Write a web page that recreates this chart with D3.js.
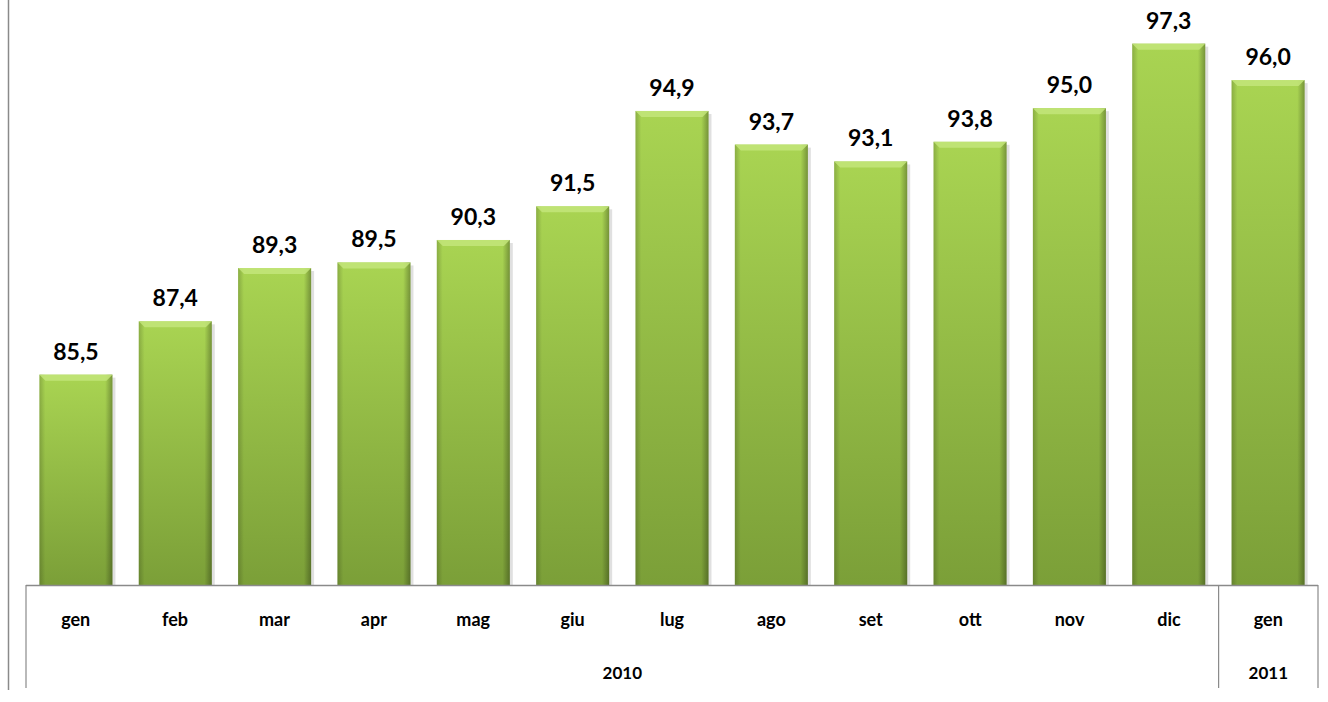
<!DOCTYPE html>
<html>
<head>
<meta charset="utf-8">
<script src="https://cdn.jsdelivr.net/npm/d3@7"></script>
<style>
  body { margin: 0; background: #fff; }
  text { font-family: Lato, "Open Sans", sans-serif; font-weight: bold; fill: #000; }
</style>
</head>
<body>
<svg id="chart" width="1328" height="702"></svg>
<script>
// month labels, values and year groups
var months = ['gen', 'feb', 'mar', 'apr', 'mag', 'giu', 'lug', 'ago', 'set', 'ott', 'nov', 'dic', 'gen'];
var values = [85.5, 87.4, 89.3, 89.5, 90.3, 91.5, 94.9, 93.7, 93.1, 93.8, 95.0, 97.3, 96.0];
var years = ['2010', '2011'];
var yearSpan = [12, 1];

var svg = d3.select('#chart');
var left = 26, right = 1318, base = 585;
var keys = d3.range(months.length);

var x = d3.scaleBand().domain(keys).range([left, right]).paddingInner(0.265).paddingOuter(0.135);
var xCat = d3.scaleBand().domain(keys).range([left, right]);
var y = d3.scaleLinear().domain([78, 98]).range([base, 24]);

var defs = svg.append('defs');
var g1 = defs.append('linearGradient').attr('id', 'fillG').attr('x1', 0).attr('y1', 0).attr('x2', 0).attr('y2', 1);
g1.append('stop').attr('offset', '0%').attr('stop-color', '#a9d452');
g1.append('stop').attr('offset', '100%').attr('stop-color', '#7b9f38');
var g2 = defs.append('linearGradient').attr('id', 'sideG').attr('x1', 0).attr('y1', 0).attr('x2', 1).attr('y2', 0);
g2.append('stop').attr('offset', '0%').attr('stop-color', '#000').attr('stop-opacity', 0.18);
g2.append('stop').attr('offset', '8%').attr('stop-color', '#000').attr('stop-opacity', 0);
g2.append('stop').attr('offset', '90%').attr('stop-color', '#000').attr('stop-opacity', 0);
g2.append('stop').attr('offset', '100%').attr('stop-color', '#000').attr('stop-opacity', 0.3);

// left frame line
svg.append('line').attr('x1', 8.5).attr('x2', 8.5).attr('y1', 0).attr('y2', 690)
    .attr('stroke', '#8a8a8a').attr('stroke-width', 1.5);

var bars = svg.selectAll('g.bar').data(keys).enter().append('g').attr('class', 'bar');

// soft shadow on the right
bars.append('rect')
    .attr('x', d => x(d) + 3).attr('y', d => y(values[d]) + 3)
    .attr('width', x.bandwidth()).attr('height', d => base - y(values[d]) - 3)
    .attr('fill', '#000').attr('opacity', 0.12);

bars.append('rect')
    .attr('x', d => x(d)).attr('y', d => y(values[d]))
    .attr('width', x.bandwidth()).attr('height', d => base - y(values[d]))
    .attr('fill', 'url(#fillG)');

bars.append('rect')
    .attr('x', d => x(d)).attr('y', d => y(values[d]))
    .attr('width', x.bandwidth()).attr('height', d => base - y(values[d]))
    .attr('fill', 'url(#sideG)');

// bevel on top edge
bars.append('path')
    .attr('d', function(d) {
        var x0 = x(d), x1 = x0 + x.bandwidth(), t = y(values[d]);
        return 'M' + x0 + ',' + t + 'L' + x1 + ',' + t + 'L' + (x1 - 6) + ',' + (t + 6) + 'L' + (x0 + 6) + ',' + (t + 6) + 'Z';
    })
    .attr('fill', '#c3e57a').attr('opacity', 0.85);

bars.append('text')
    .attr('x', d => x(d) + x.bandwidth() / 2)
    .attr('y', d => y(values[d]) - 15)
    .attr('text-anchor', 'middle')
    .attr('font-size', 23)
    .text(d => values[d].toFixed(1).replace('.', ','));

// category axis
svg.append('line').attr('x1', left).attr('x2', right).attr('y1', base + 0.5).attr('y2', base + 0.5)
    .attr('stroke', '#8a8a8a').attr('stroke-width', 1.5);

svg.selectAll('text.month').data(keys).enter().append('text')
    .attr('class', 'month')
    .attr('x', d => xCat(d) + xCat.bandwidth() / 2)
    .attr('y', 626)
    .attr('text-anchor', 'middle')
    .attr('font-size', 18)
    .text(d => months[d]);

var start = 0;
var groups = years.map(function(yr, i) {
    var g = { year: yr, from: start, to: start + yearSpan[i] - 1 };
    start += yearSpan[i];
    return g;
});

var dividers = [0].concat(groups.map(g => g.to + 1));
svg.selectAll('line.div').data(dividers).enter().append('line')
    .attr('x1', d => d < months.length ? xCat(d) : right)
    .attr('x2', d => d < months.length ? xCat(d) : right)
    .attr('y1', base).attr('y2', 688)
    .attr('stroke', '#8a8a8a').attr('stroke-width', 1.2);

svg.selectAll('text.year').data(groups).enter().append('text')
    .attr('x', g => (xCat(g.from) + xCat(g.to) + xCat.bandwidth()) / 2)
    .attr('y', 679)
    .attr('text-anchor', 'middle')
    .attr('font-size', 17)
    .text(g => g.year);
</script>
</body>
</html>
